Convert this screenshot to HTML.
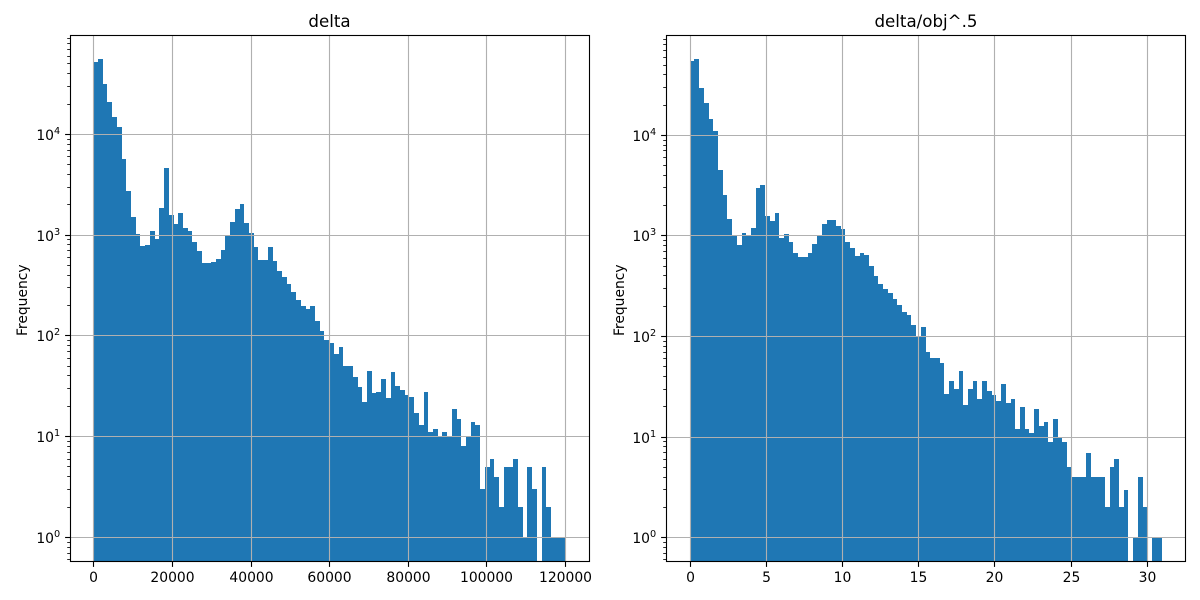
<!DOCTYPE html>
<html lang="en">
<head>
<meta charset="utf-8">
<title>delta histograms</title>
<style>
html,body{margin:0;padding:0;background:#fff;}
svg{display:block;}
text{font-family:"DejaVu Sans","Liberation Sans",sans-serif;fill:#000;}
</style>
</head>
<body>
<svg id="figure" width="1200" height="600" viewBox="0 0 1200 600" xmlns="http://www.w3.org/2000/svg">
  <rect x="0" y="0" width="1200" height="600" fill="#ffffff"/>
  <g id="panel-left"></g>
  <g id="panel-right"></g>
  <text x="329.5" y="27" font-size="16.67" text-anchor="middle">delta</text>
  <text x="926" y="27" font-size="16.67" text-anchor="middle">delta/obj^.5</text>
  <text x="0" y="0" font-size="13.89" text-anchor="middle" transform="translate(27,300.2) rotate(-90)">Frequency</text>
  <text x="0" y="0" font-size="13.89" text-anchor="middle" transform="translate(624,300.2) rotate(-90)">Frequency</text>
</svg>
<script>
const deltaCounts = [52200,56000,31600,20900,14860,11800,5690,2740,1510,1025,
  780,798,1096,914,1858,4640,1582,1288,1656,1175,
  1096,853,695,528,528,540,579,711,980,1349,
  1815,2037,1318,1048,762,566,566,762,553,440,
  384,327,272,227,198,185,198,140,112,91,
  85,66,77,50,50,39,31,22,45,27,
  28,37,24,44,32,29,26,25,17,13,
  28,11,12,10,11,10,19,15,8,10,
  14,13,3,5,6,4,2,5,5,6,
  2,1,5,3,0,5,2,1,1,1];
const ratioCounts = [54970,57540,29620,21010,14560,11060,4530,2555,1475,1000,
  813,1070,1022,1200,2999,3213,1580,1408,1692,954,
  1046,871,677,618,618,677,832,1000,1315,1441,
  1441,1256,1173,871,759,632,677,647,503,400,
  333,297,271,236,206,175,164,130,100,124,
  70,61,61,55,27,36,30,45,21,30,
  36,24,36,29,26,23,34,22,24,12,
  20,12,11,19,13,14,9,15,10,9,
  5,4,4,4,7,4,4,4,2,5,
  6,2,3,0,1,4,2,0,1,1];
const deltaRange = [0, 120000];
const ratioRange = [0, 30.96];
const deltaXTicks = [0,20000,40000,60000,80000,100000,120000];
const ratioXTicks = [0,5,10,15,20,25,30];
const yTickExponents = [0,1,2,3,4];
const yMinorMultipliers = [2,3,4,5,6,7,8,9];
const yMinorExponents = [-1,0,1,2,3,4];

const NS = 'http://www.w3.org/2000/svg';

function svgEl(tag, attrs, parent) {
  const el = document.createElementNS(NS, tag);
  for (const k in attrs) el.setAttribute(k, attrs[k]);
  parent.appendChild(el);
  return el;
}

function drawPanel(host, cfg, counts, range, xTicks) {
  const left = cfg.left, right = cfg.right, top = 35.5, bottom = 561.5;
  const xScale = v => cfg.x0 + (v - range[0]) * 471.8 / (range[1] - range[0]);
  const yScale = v => cfg.y0 - Math.log10(v) * cfg.decade;
  const snapX = p => Math.floor(p + 0.5) + 0.5;
  const snapY = p => Math.floor(p) + 0.5;

  const bars = svgEl('g', {'shape-rendering': 'crispEdges'}, host);
  
  
  const binWidth = (range[1] - range[0]) / counts.length;
  counts.forEach((count, i) => {
    if (count <= 0) return;
    const x1 = Math.round(xScale(range[0] + i * binWidth));
    const x2 = Math.round(xScale(range[0] + (i + 1) * binWidth));
    const y1 = Math.round(yScale(count));
    const bar = svgEl('rect', {x: x1, y: y1, width: x2 - x1, height: 561 - y1, fill: '#1f77b4'}, bars);
    
    
  });

  xTicks.forEach(t => {
    const px = snapX(xScale(t));
    const grid = svgEl('line', {x1: px, x2: px, y1: top, y2: bottom, stroke: '#b0b0b0', 'stroke-width': 1.11}, host);
    
    
    const tick = svgEl('line', {x1: px, x2: px, y1: bottom, y2: bottom + 5.4, stroke: '#000', 'stroke-width': 1.11}, host);
    
    
    const label = svgEl('text', {x: px, y: 582, 'font-size': 13.89, 'text-anchor': 'middle'}, host);
    label.textContent = String(t);
    
    
  });

  yTickExponents.forEach(e => {
    const py = snapY(yScale(Math.pow(10, e)));
    const grid = svgEl('line', {x1: left, x2: right, y1: py, y2: py, stroke: '#b0b0b0', 'stroke-width': 1.11}, host);
    
    
    const tick = svgEl('line', {x1: left - 5.4, x2: left, y1: py, y2: py, stroke: '#000', 'stroke-width': 1.11}, host);
    
    
    const label = svgEl('text', {x: left - 10.3, y: py + 5.5, 'font-size': 13.89, 'text-anchor': 'end'}, host);
    
    
    label.appendChild(document.createTextNode('10'));
    const sup = svgEl('tspan', {dy: -5.8, 'font-size': 9.72}, label);
    sup.textContent = String(e);
  });

  yMinorExponents.forEach(e => {
    yMinorMultipliers.forEach(m => {
      const value = m * Math.pow(10, e);
      const raw = yScale(value);
      if (raw < top || raw > bottom) return;
      const py = snapY(raw);
      const minor = svgEl('line', {x1: left - 3.3, x2: left, y1: py, y2: py, stroke: '#000', 'stroke-width': 0.83}, host);
      
      
    });
  });

  const frame = svgEl('rect', {x: left, y: top, width: right - left, height: bottom - top, fill: 'none', stroke: '#000', 'stroke-width': 1.11}, host);
  
  
}

drawPanel(document.getElementById('panel-left'),
  {left: 70.5, right: 589.5, x0: 93.3, y0: 537.4, decade: 100.75},
  deltaCounts, deltaRange, deltaXTicks);
drawPanel(document.getElementById('panel-right'),
  {left: 666.5, right: 1185.5, x0: 689.7, y0: 537.6, decade: 100.55},
  ratioCounts, ratioRange, ratioXTicks);
</script>
</body>
</html>
